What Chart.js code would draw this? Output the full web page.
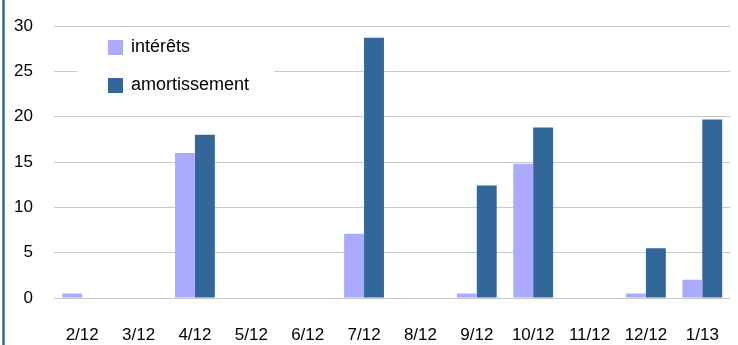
<!DOCTYPE html>
<html>
<head>
<meta charset="utf-8">
<script src="https://cdn.jsdelivr.net/npm/chart.js@4/dist/chart.umd.min.js"></script>
<style>
  html, body { margin: 0; padding: 0; background: #fff; }
  #wrap { width: 738px; height: 345px; position: relative; }
</style>
</head>
<body>
<div id="wrap"><canvas id="chart" width="738" height="345"></canvas></div>
<script>
const months = ["2/12", "3/12", "4/12", "5/12", "6/12", "7/12", "8/12", "9/12", "10/12", "11/12", "12/12", "1/13"];
const interets = [0.5, 0, 16, 0, 0, 7.1, 0, 0.5, 14.8, 0, 0.5, 2];
const amortissement = [0, 0, 18, 0, 0, 28.7, 0, 12.4, 18.8, 0, 5.5, 19.7];
const yTicks = [0, 5, 10, 15, 20, 25, 30];

const FONT = "'Liberation Sans', Arial, sans-serif";

// legend box sitting over the plot, plus the frame line on the left
const insideLegend = {
    id: "insideLegend",
    afterDatasetsDraw(chart) {
        const ctx = chart.ctx;
        ctx.save();
        ctx.fillStyle = "#fff";
        ctx.fillRect(77, 30, 197, 66);
        chart.data.datasets.forEach((ds, i) => {
            const y = 47.5 + i * 38;
            ctx.fillStyle = ds.backgroundColor;
            ctx.fillRect(108, y - 7.5, 15, 15);
            ctx.fillStyle = "#000";
            ctx.font = "18px " + FONT;
            ctx.textBaseline = "middle";
            ctx.fillText(ds.label, 131, y);
        });
        ctx.strokeStyle = "#3d6594";
        ctx.lineWidth = 2.5;
        ctx.beginPath();
        ctx.moveTo(3.5, 0);
        ctx.lineTo(3.5, 345);
        ctx.stroke();
        ctx.restore();
    }
};

new Chart(document.getElementById("chart"), {
    type: "bar",
    data: {
        labels: months,
        datasets: [
            { label: "intérêts", data: interets, backgroundColor: "#aaaaff" },
            { label: "amortissement", data: amortissement, backgroundColor: "#336699" }
        ]
    },
    options: {
        responsive: false,
        animation: false,
        layout: { padding: { top: 26, right: 4, left: 0, bottom: 0 } },
        plugins: { legend: { display: false }, tooltip: { enabled: false } },
        datasets: { bar: { categoryPercentage: 0.706, barPercentage: 1.0 } },
        scales: {
            x: {
                grid: { display: false },
                border: { display: false },
                ticks: { color: "#000", font: { family: FONT, size: 17 }, padding: 19, maxRotation: 0, autoSkip: false },
                afterFit: s => { s.height = 47; s.paddingTop = 0; s.paddingBottom = 0; }
            },
            y: {
                min: 0,
                max: 30,
                afterBuildTicks: s => { s.ticks = yTicks.map(v => ({ value: v })); },
                grid: { color: "#c8c8c8", lineWidth: 1, drawTicks: false },
                border: { display: false },
                ticks: { color: "#000", font: { family: FONT, size: 17 }, padding: 21 },
                afterFit: s => { s.width = 54; s.paddingTop = 0; s.paddingBottom = 0; }
            }
        }
    },
    plugins: [insideLegend]
});
</script>
</body>
</html>
